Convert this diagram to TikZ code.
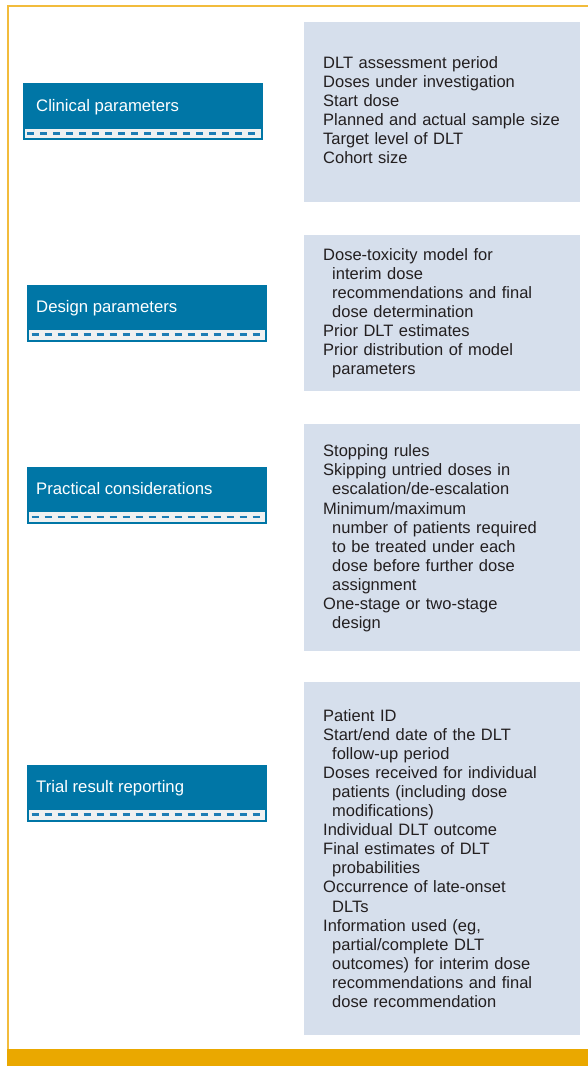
\documentclass[tikz,border=0pt]{standalone}
\usepackage{fontspec}
\setmainfont{Liberation Sans}
\usetikzlibrary{calc}
\definecolor{hdrblue}{HTML}{0076A6}
\definecolor{stripgray}{HTML}{EFF1F1}
\definecolor{dashblue}{HTML}{1C7DB5}
\definecolor{panelgray}{HTML}{D6DFEC}
\definecolor{bodytext}{HTML}{231F20}
\definecolor{outerline}{HTML}{F2BC3C}
\definecolor{barorange}{HTML}{EAA800}
\begin{document}
\begin{tikzpicture}[x=1pt,y=-1pt,
  bluebox/.style={draw=none,fill=hdrblue,anchor=north west,inner sep=0pt,minimum width=240pt,minimum height=57pt},
  strip/.style={draw=none,fill=stripgray,anchor=north west,inner sep=0pt,minimum width=236pt,minimum height=9.5pt},
  dashline/.style={draw=dashblue,line width=2.6pt,dash pattern=on 7pt off 6pt},
  labeltext/.style={anchor=base west,inner sep=0pt,text=white,font=\fontsize{16.7}{19.1}\selectfont},
  panel/.style={draw=none,fill=panelgray,anchor=north west,inner sep=0pt,minimum width=275.3pt},
  paneltext/.style={anchor=base west,inner sep=0pt,text=bodytext,text width=252pt,align=left,font=\fontsize{16.5}{19.1}\selectfont},
  outerframe/.style={draw=outerline,line width=2pt}
]
\useasboundingbox (0,0) rectangle (588,1066);

% outer frame and bottom bar
\coordinate (ftr) at (588,5.5);
\coordinate (ftl) at (7.7,5.5);
\coordinate (fbl) at (7.7,1049);
\draw[outerframe] (ftr) -- (ftl) -- (fbl);
\node[draw=none,fill=barorange,anchor=north west,inner sep=0pt,minimum width=581pt,minimum height=17pt] (bar) at (7,1049) {};

% ---------- Clinical parameters ----------
\node[bluebox] (cp) at (22.7,83) {};
\node[strip] (cps) at ($(cp.north west)+(2,45.5)$) {};
\draw[dashline] ($(cps.west)+(2.5,0)$) -- ($(cps.east)+(-2.5,0)$);
\node[labeltext] (cpt) at (36,111) {Clinical parameters};

\node[panel,minimum height=179.7pt] (cpp) at (304,22) {};
\node[paneltext] (cppt) at (323,68.3) {DLT assessment period\\
Doses under investigation\\
Start dose\\
Planned and actual sample size\\
Target level of DLT\\
Cohort size};

% ---------- Design parameters ----------
\node[bluebox] (dp) at (27,284.3) {};
\node[strip] (dps) at ($(dp.north west)+(2,45.5)$) {};
\draw[dashline] ($(dps.west)+(2.5,0)$) -- ($(dps.east)+(-2.5,0)$);
\node[labeltext] (dpt) at (36,312.3) {Design parameters};

\node[panel,minimum height=156pt] (dpp) at (304,235) {};
\node[paneltext] (dppt) at (323,260) {Dose-toxicity model for\\
\hspace*{9pt}interim dose\\
\hspace*{9pt}recommendations and final\\
\hspace*{9pt}dose determination\\
Prior DLT estimates\\
Prior distribution of model\\
\hspace*{9pt}parameters};

% ---------- Practical considerations ----------
\node[bluebox] (pc) at (27,466.7) {};
\node[strip] (pcs) at ($(pc.north west)+(2,45.5)$) {};
\draw[dashline] ($(pcs.west)+(2.5,0)$) -- ($(pcs.east)+(-2.5,0)$);
\node[labeltext] (pct) at (36,494.7) {Practical considerations};

\node[panel,minimum height=227.7pt] (pcp) at (304,423.3) {};
\node[paneltext] (pcpt) at (323,456.7) {Stopping rules\\
Skipping untried doses in\\
\hspace*{9pt}escalation/de-escalation\\
Minimum/maximum\\
\hspace*{9pt}number of patients required\\
\hspace*{9pt}to be treated under each\\
\hspace*{9pt}dose before further dose\\
\hspace*{9pt}assignment\\
One-stage or two-stage\\
\hspace*{9pt}design};

% ---------- Trial result reporting ----------
\node[bluebox] (tr) at (27,764.3) {};
\node[strip] (trs) at ($(tr.north west)+(2,45.5)$) {};
\draw[dashline] ($(trs.west)+(2.5,0)$) -- ($(trs.east)+(-2.5,0)$);
\node[labeltext] (trt) at (36,792.3) {Trial result reporting};

\node[panel,minimum height=352.5pt] (trp) at (304,682) {};
\node[paneltext] (trpt) at (323,721) {Patient ID\\
Start/end date of the DLT\\
\hspace*{9pt}follow-up period\\
Doses received for individual\\
\hspace*{9pt}patients (including dose\\
\hspace*{9pt}modifications)\\
Individual DLT outcome\\
Final estimates of DLT\\
\hspace*{9pt}probabilities\\
Occurrence of late-onset\\
\hspace*{9pt}DLTs\\
Information used (eg,\\
\hspace*{9pt}partial/complete DLT\\
\hspace*{9pt}outcomes) for interim dose\\
\hspace*{9pt}recommendations and final\\
\hspace*{9pt}dose recommendation};
\end{tikzpicture}
\end{document}
